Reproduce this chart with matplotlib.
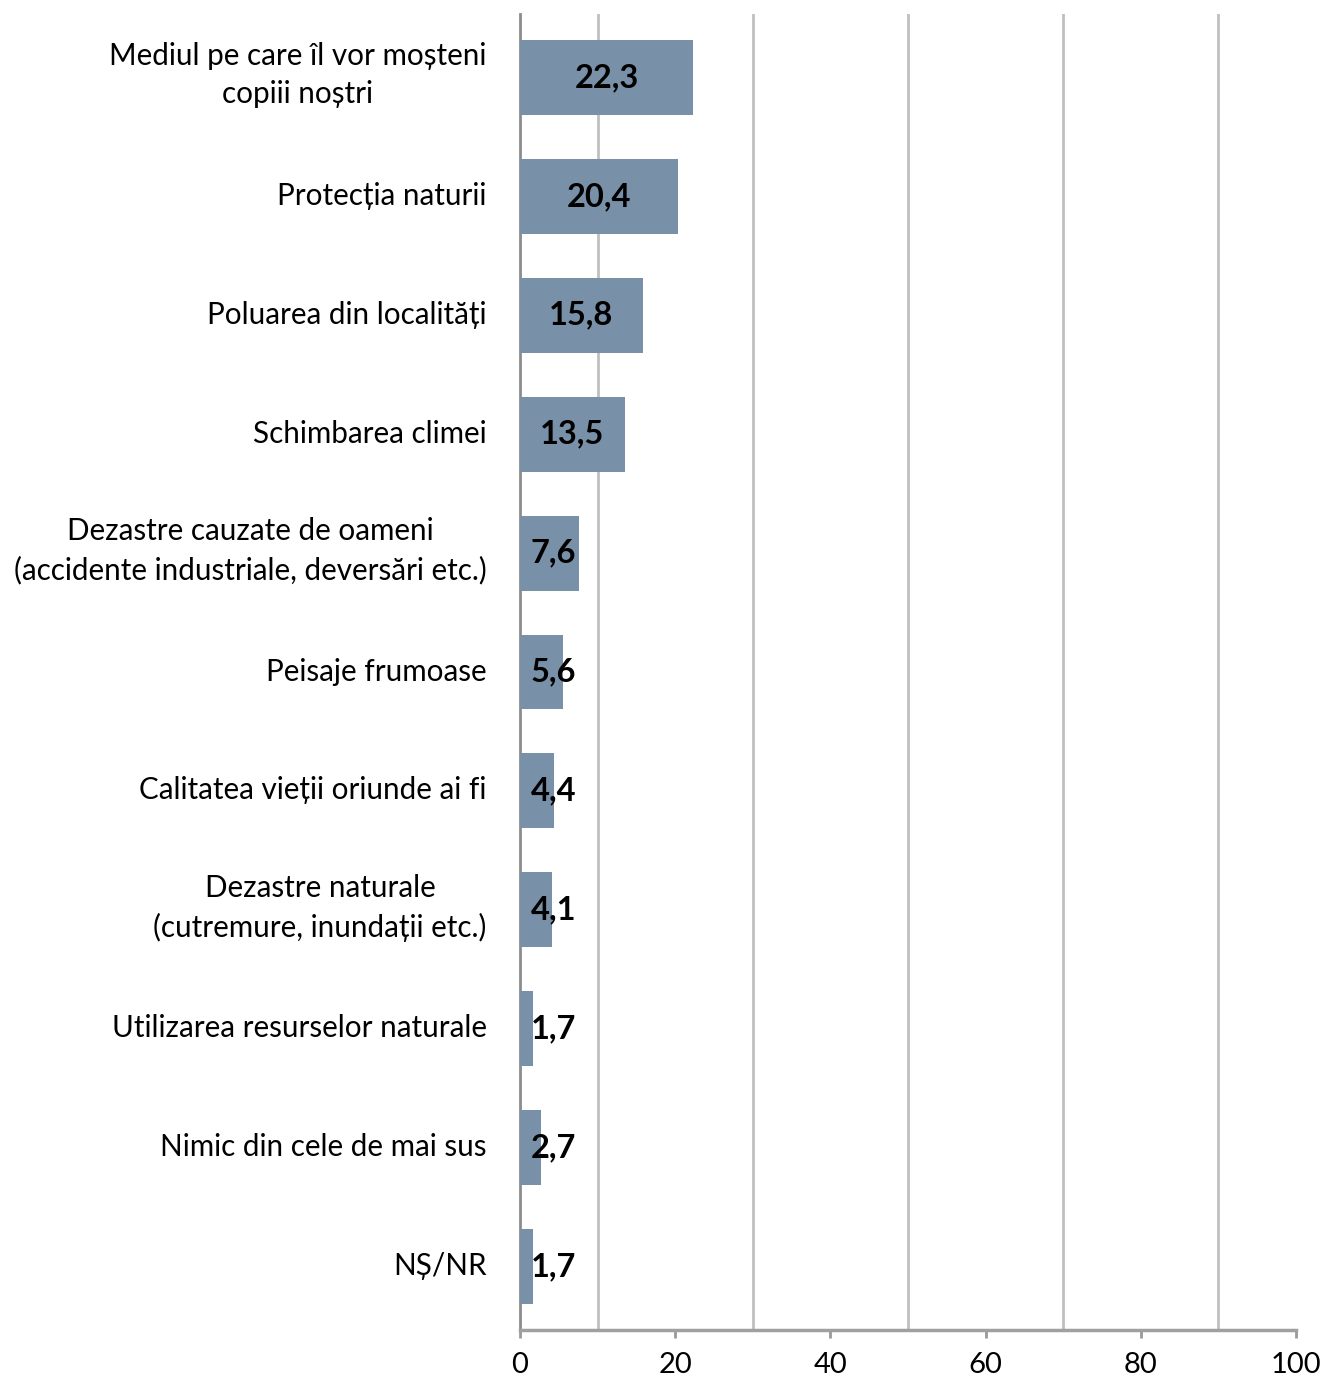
import matplotlib
matplotlib.use("Agg")
import matplotlib.pyplot as plt
import matplotlib.transforms as mtransforms

categories = [
    "Mediul pe care îl vor moșteni\ncopiii noștri",
    "Protecția naturii",
    "Poluarea din localități",
    "Schimbarea climei",
    "Dezastre cauzate de oameni\n(accidente industriale, deversări etc.)",
    "Peisaje frumoase",
    "Calitatea vieții oriunde ai fi",
    "Dezastre naturale\n(cutremure, inundații etc.)",
    "Utilizarea resurselor naturale",
    "Nimic din cele de mai sus",
    "NȘ/NR",
]
values = [22.3, 20.4, 15.8, 13.5, 7.6, 5.6, 4.4, 4.1, 1.7, 2.7, 1.7]
value_labels = ["22,3", "20,4", "15,8", "13,5", "7,6", "5,6", "4,4", "4,1", "1,7", "2,7", "1,7"]
xticks = [0, 20, 40, 60, 80, 100]
gridlines = [10, 30, 50, 70, 90]

plt.rcParams['font.family'] = ['Lato', 'DejaVu Sans']

W, H = 1327, 1377
fig = plt.figure(figsize=(W / 100, H / 100), dpi=100)
ax = fig.add_axes([520 / W, (H - 1330) / H, 776 / W, 1316 / H])

n = len(categories)
ypos = list(range(n))
ax.barh(ypos, values, height=0.63, color="#7890A8", zorder=3)
ax.set_ylim(n - 0.466, -0.534)
ax.set_xlim(0, 100)

for x in gridlines:
    ax.axvline(x, color="#C0C0C0", lw=2, zorder=1)

for y, v, lab in zip(ypos, values, value_labels):
    ax.text(max(v / 2, 4.3), y, lab, ha="center", va="center",
            fontsize=23.5, fontweight="bold", color="black", zorder=4)

ax.set_yticks(ypos)
ax.set_yticklabels(categories, fontsize=21.3, multialignment="center",
                   linespacing=1.45)
ax.tick_params(axis="y", length=0, pad=24)
for lbl in ax.get_yticklabels():
    dy = 10 if "\n" in lbl.get_text() else 3
    off = mtransforms.ScaledTranslation(0, dy / 100, fig.dpi_scale_trans)
    lbl.set_transform(lbl.get_transform() + off)

ax.set_xticks(xticks)
ax.set_xticklabels([str(t) for t in xticks], fontsize=21)
ax.tick_params(axis="x", length=6, width=2, color="#999999", pad=10)

for s in ["top", "right"]:
    ax.spines[s].set_visible(False)
ax.spines["left"].set_color("#8C8C8C")
ax.spines["left"].set_linewidth(2)
ax.spines["bottom"].set_color("#A0A0A0")
ax.spines["bottom"].set_linewidth(2.5)

fig.savefig("out.png", dpi=100)
